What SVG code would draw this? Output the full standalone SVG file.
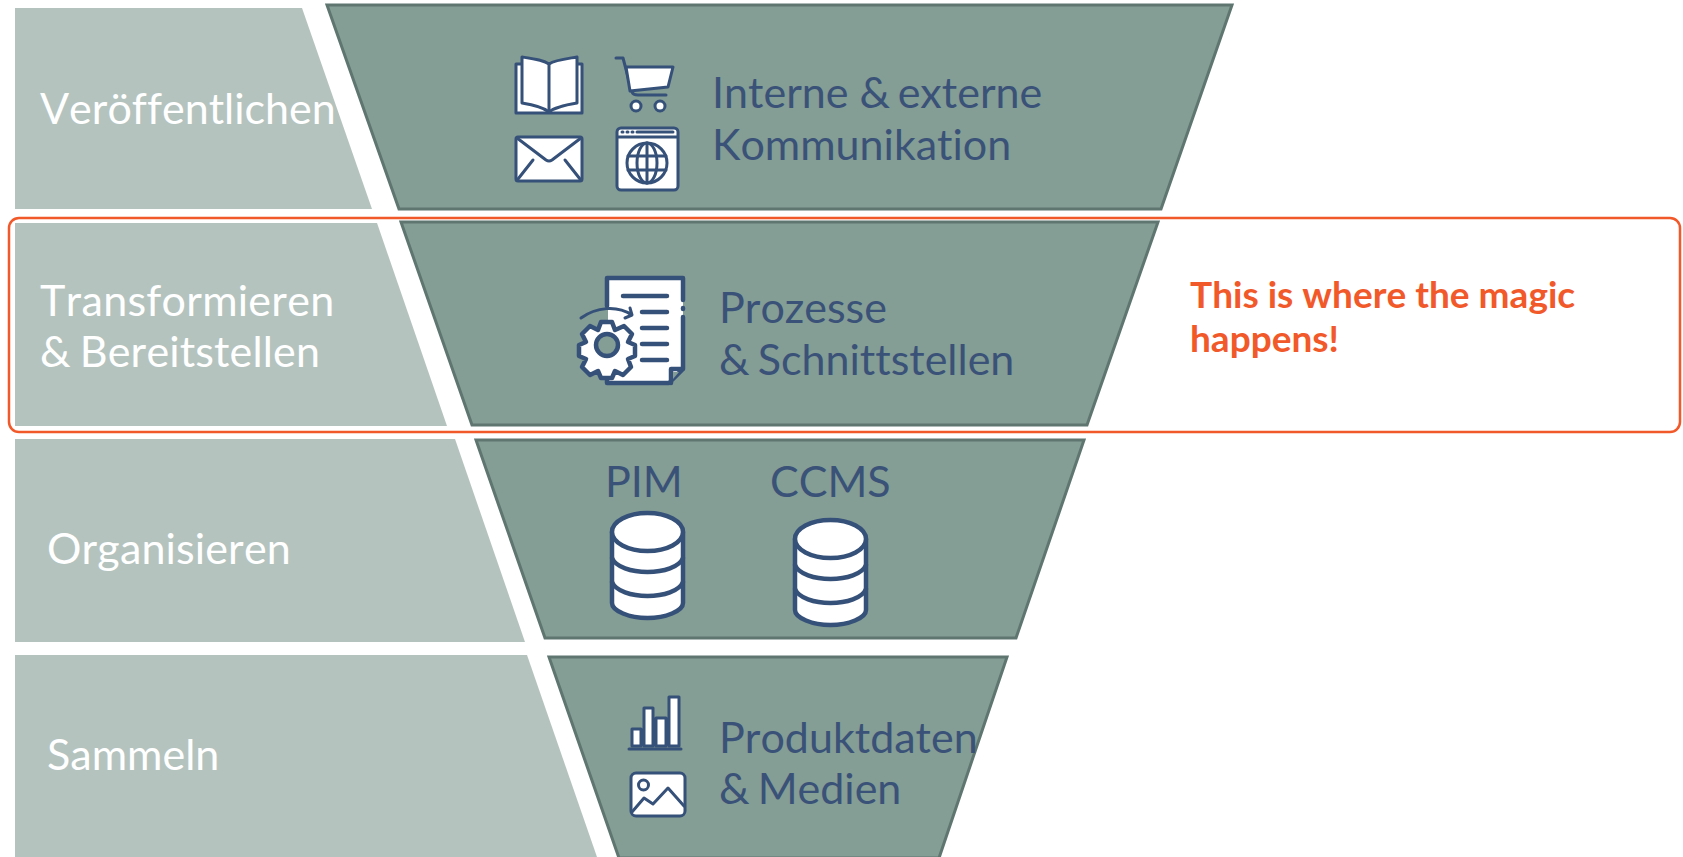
<svg xmlns="http://www.w3.org/2000/svg" width="1683" height="857" viewBox="0 0 1683 857">
<style>
.band{fill:#b5c3bf}
.trap{fill:#849d95;stroke:#5f7670;stroke-width:3}
text{font-family:Lato,"Open Sans",sans-serif;font-size:43px;font-kerning:none;font-variant-ligatures:none}
.w{fill:#fff}
.b{fill:#3a5278}
.o{fill:#f2592a;font-weight:700;font-size:37px}
.i{fill:#fff;stroke:#365179;stroke-width:3;stroke-linejoin:round;stroke-linecap:round}
.n{fill:none;stroke:#365179;stroke-width:3;stroke-linejoin:round;stroke-linecap:round}
.t{stroke-width:4.5}
</style>
<defs>
<g id="db">
<path class="i t" d="M-35.5 0V71C-35.5 79 -18 86 0 86S35.5 79 35.5 71V0Z"/>
<ellipse class="i t" cx="0" cy="0" rx="35.5" ry="19"/>
<path class="n t" d="M-35.5 26C-32 35 -16 40 0 40S32 35 35.5 26M-35.5 50C-32 59 -16 64 0 64S32 59 35.5 50"/>
</g>
</defs>
<g id="row-veroeffentlichen">
<path class="band" d="M15 8H302L372 209H15Z"/>
<path class="trap" d="M327 5H1232L1161 209H399Z"/>
<text class="w" x="40" y="124">Veröffentlichen</text>
<text class="b"><tspan x="712" y="108">Interne &amp;</tspan><tspan dx="-3.500"> externe</tspan><tspan x="712" y="160">Kommunikation</tspan></text>
<g id="icon-book">
<path class="i" d="M516 64H582V113H516Z"/>
<path class="i" d="M522 57C535 59 543 60 549 64C555 60 565 59 577 57V103C565 105 555 107 549 112C543 107 535 105 522 103Z"/>
<path class="n" d="M549 64V112"/>
</g>
<g id="icon-cart">
<path class="n" d="M616 58H623L632 92Q633 95 638 95H666"/>
<path class="i" d="M626 67H673L668 87L630 91Z"/>
<circle class="i" cx="636" cy="106" r="5"/><circle class="i" cx="660" cy="106" r="5"/>
</g>
<g id="icon-mail">
<rect class="i" x="516" y="137" width="66" height="44" rx="2"/>
<path class="n" d="M517 138L546 160Q549 162 552 160L581 138M533 160L518 179M565 160L580 179"/>
</g>
<g id="icon-web">
<rect class="i" x="617" y="128" width="61" height="62" rx="4"/>
<path class="n" d="M618 137H677M637 132H673" stroke-width="2"/>
<path class="n" d="M622 132H623M627 132H628M632 132H633"/>
<circle class="i" cx="647" cy="163" r="20" stroke-width="2.5"/>
<ellipse class="n" cx="647" cy="163" rx="10" ry="20" stroke-width="2"/>
<path class="n" d="M647 143V183M628 156H666M628 170H666" stroke-width="2"/>
</g>
</g>
<g id="row-transformieren">
<path class="band" d="M15 223H377L447 426H15Z"/>
<path class="trap" d="M401 222H1158L1087 425H472Z"/>
<text class="w"><tspan x="40" y="316" letter-spacing="0.25">Transformieren</tspan><tspan x="40" y="367">&amp;</tspan><tspan dx="-2" letter-spacing="0.15"> Bereitstellen</tspan></text>
<text class="b"><tspan x="719" y="323">Prozesse</tspan><tspan x="719" y="375">&amp;</tspan><tspan dx="-3"> Schnittstellen</tspan></text>
<g id="icon-doc">
<path d="M608 278H683V369L670 383H608Z" fill="#fff"/>
<path class="n t" d="M607 306V278H683V300M683 308V309M683 317V369L669 383H607V373M683 369H671V383"/>
<path d="M673 372H679L673 379Z" fill="#849d95"/>
<path class="n t" d="M623 296H667M642 312H667M642 328H667M642 344H667M642 360H667"/>
<path class="n" stroke-width="3.5" d="M581 318C596 307 617 305 632 315M630 308L632 315L625 318"/>
<path class="i t" d="M601 322L612 322L615 330L624 326L632 334L628 342L635 345V356L628 359L631 367L623 375L615 371L612 378H601L598 371L590 375L582 367L586 359L579 356V345L586 342L582 334L590 326L598 330Z"/>
<circle cx="607" cy="345" r="11" fill="#849d95" stroke="#365179" stroke-width="4.5"/>
</g>
</g>
<g id="row-organisieren">
<path class="band" d="M15 439H455L525 642H15Z"/>
<path class="trap" d="M476 440H1084L1016 638H545Z"/>
<text class="w" x="47" y="564" letter-spacing="0.15">Organisieren</text>
<text class="b" x="605" y="497">PIM</text>
<text class="b" x="770" y="497">CCMS</text>
<g id="db-pim"><use href="#db" x="647.5" y="532"/></g>
<g id="db-ccms"><use href="#db" x="830.5" y="539"/></g>
</g>
<g id="row-sammeln">
<path class="band" d="M15 655H527L597 857H15Z"/>
<path class="trap" d="M549 657H1007L939 858H619Z"/>
<text class="w" x="47" y="770">Sammeln</text>
<text class="b"><tspan x="719" y="753">Produktdaten</tspan><tspan x="719" y="804">&amp;</tspan><tspan dx="-3"> Medien</tspan></text>
<g id="icon-chart">
<path class="i" d="M632 729H641V746H632ZM644 708H653V746H644ZM656 718H666V746H656ZM669 697H679V746H669Z"/>
<path class="n" stroke-width="2" d="M629 749H681"/>
</g>
<g id="icon-image">
<rect class="i" x="631" y="773" width="54" height="43" rx="5" stroke-width="3.5"/>
<circle class="i" cx="643.500" cy="785" r="5"/>
<path class="n" stroke-width="3.5" d="M632 812L644 798L653 804L668 788L684 806"/>
</g>
</g>
<g id="callout">
<rect x="9" y="218" width="1671" height="214" rx="10" fill="none" stroke="#f2592a" stroke-width="2.5"/>
<text class="o"><tspan x="1190" y="308">This is where the magic</tspan><tspan x="1190" y="352">happens!</tspan></text>
</g>
</svg>
